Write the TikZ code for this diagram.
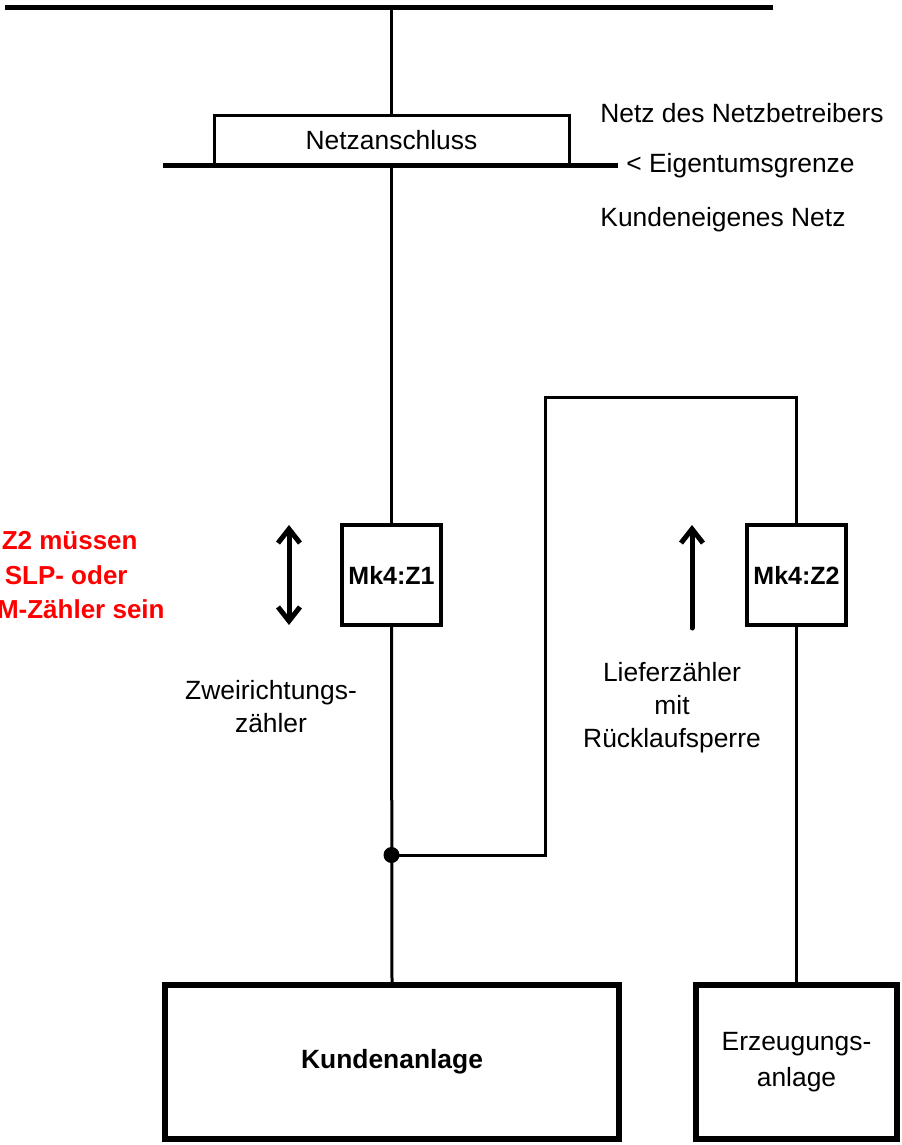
\documentclass[tikz,border=0pt]{standalone}
\usepackage{fontspec}
\setmainfont{Liberation Sans}
\usepackage{xcolor}
\usetikzlibrary{positioning}
\usetikzlibrary{arrows.meta}
\tikzset{dot/.style={circle, fill, inner sep=0pt, minimum size=8pt}}
\tikzset{txt/.style={inner sep=0pt, align=center, font=\fontsize{13.2}{16.5}\selectfont}}
\tikzset{rottxt/.style={inner sep=0pt, text=red, font=\bfseries\fontsize{13}{17}\selectfont}}
\tikzset{zaehler/.style={draw, line width=1.75pt, minimum width=49.5pt, minimum height=50pt, inner sep=0pt, font=\bfseries\fontsize{12.5}{15}\selectfont}}
\tikzset{anlage/.style={draw, line width=3pt, minimum height=77pt, inner sep=0pt, align=center, font=\fontsize{13.2}{18}\selectfont}}
\tikzset{schiene/.style={line width=2.5pt}}
\tikzset{leitung/.style={line width=1.5pt}}
\tikzset{pfeil/.style={line width=2.5pt, line cap=round, line join=round}}

\begin{document}
\begin{tikzpicture}[x=0.5pt, y=-0.5pt]
\useasboundingbox (0,0) rectangle (901,1145);
\coordinate (b1) at (5,8);
\coordinate (b2) at (773,8);
\coordinate (nt) at (391.5,8);
\coordinate (eg1) at (163,165.5);
\coordinate (eg2) at (618,165.5);
\coordinate (ob) at (545,397);

\node[draw, line width=1.5pt, minimum width=177.5pt, minimum height=24.75pt, inner sep=0pt, font=\fontsize{13.2}{16}\selectfont] (na) at (391.5,140.25) {Netzanschluss};
\node[txt, anchor=west] (ndn) at (600,113) {Netz des Netzbetreibers};
\node[txt, right=4pt of eg2, anchor=west] (eig) {< Eigentumsgrenze};
\node[txt, anchor=west] (ken) at (600,220) {Kundeneigenes Netz};

\node[zaehler] (z1) at (391.5,575) {Mk4:Z1};
\node[zaehler] (z2) at (796.5,575) {Mk4:Z2};
\node[dot] (kp) at (391.5,855) {};

\node[anlage, minimum width=227pt, font=\bfseries\fontsize{13.2}{18}\selectfont] (ka) at (392,1062) {Kundenanlage};
\node[anlage, minimum width=100.5pt] (ea) at (796.5,1062) {Erzeugungs-\\anlage};

% Texte
\node[rottxt, anchor=east] (r1) at (138,541) {Z2 müssen};
\node[rottxt, anchor=east] (r2) at (128,575) {SLP- oder};
\node[rottxt, anchor=east] (r3) at (165,609) {M-Zähler sein};
\node[txt] (zr) at (271,707) {Zweirichtungs-\\zähler};
\node[txt] (lz) at (672,708) {Lieferzähler\\mit\\Rücklaufsperre};

% Pfeile
\coordinate (p1) at (289,525);
\coordinate (p2) at (289,625);
\coordinate (q1) at (692,525);
\coordinate (q2) at (692,628);
\draw[pfeil, {Straight Barb[length=7pt, width=11pt]}-{Straight Barb[length=7pt, width=11pt]}] (p1) -- (p2);
\draw[pfeil, -{Straight Barb[length=7pt, width=11pt]}] (q2) -- (q1);

% Leitungen
\draw[schiene] (b1) -- (b2);
\draw[leitung] (nt) -- (na.north);
\draw[leitung] (na.south) -- (z1.north);
\draw[leitung] (z1.south) -- (ka.north);
\draw[leitung] (kp.center) -| (ob) -| (z2.north);
\draw[leitung] (z2.south) -- (ea.north);
\draw[schiene] (eg1) -- (eg2);
\end{tikzpicture}
\end{document}
